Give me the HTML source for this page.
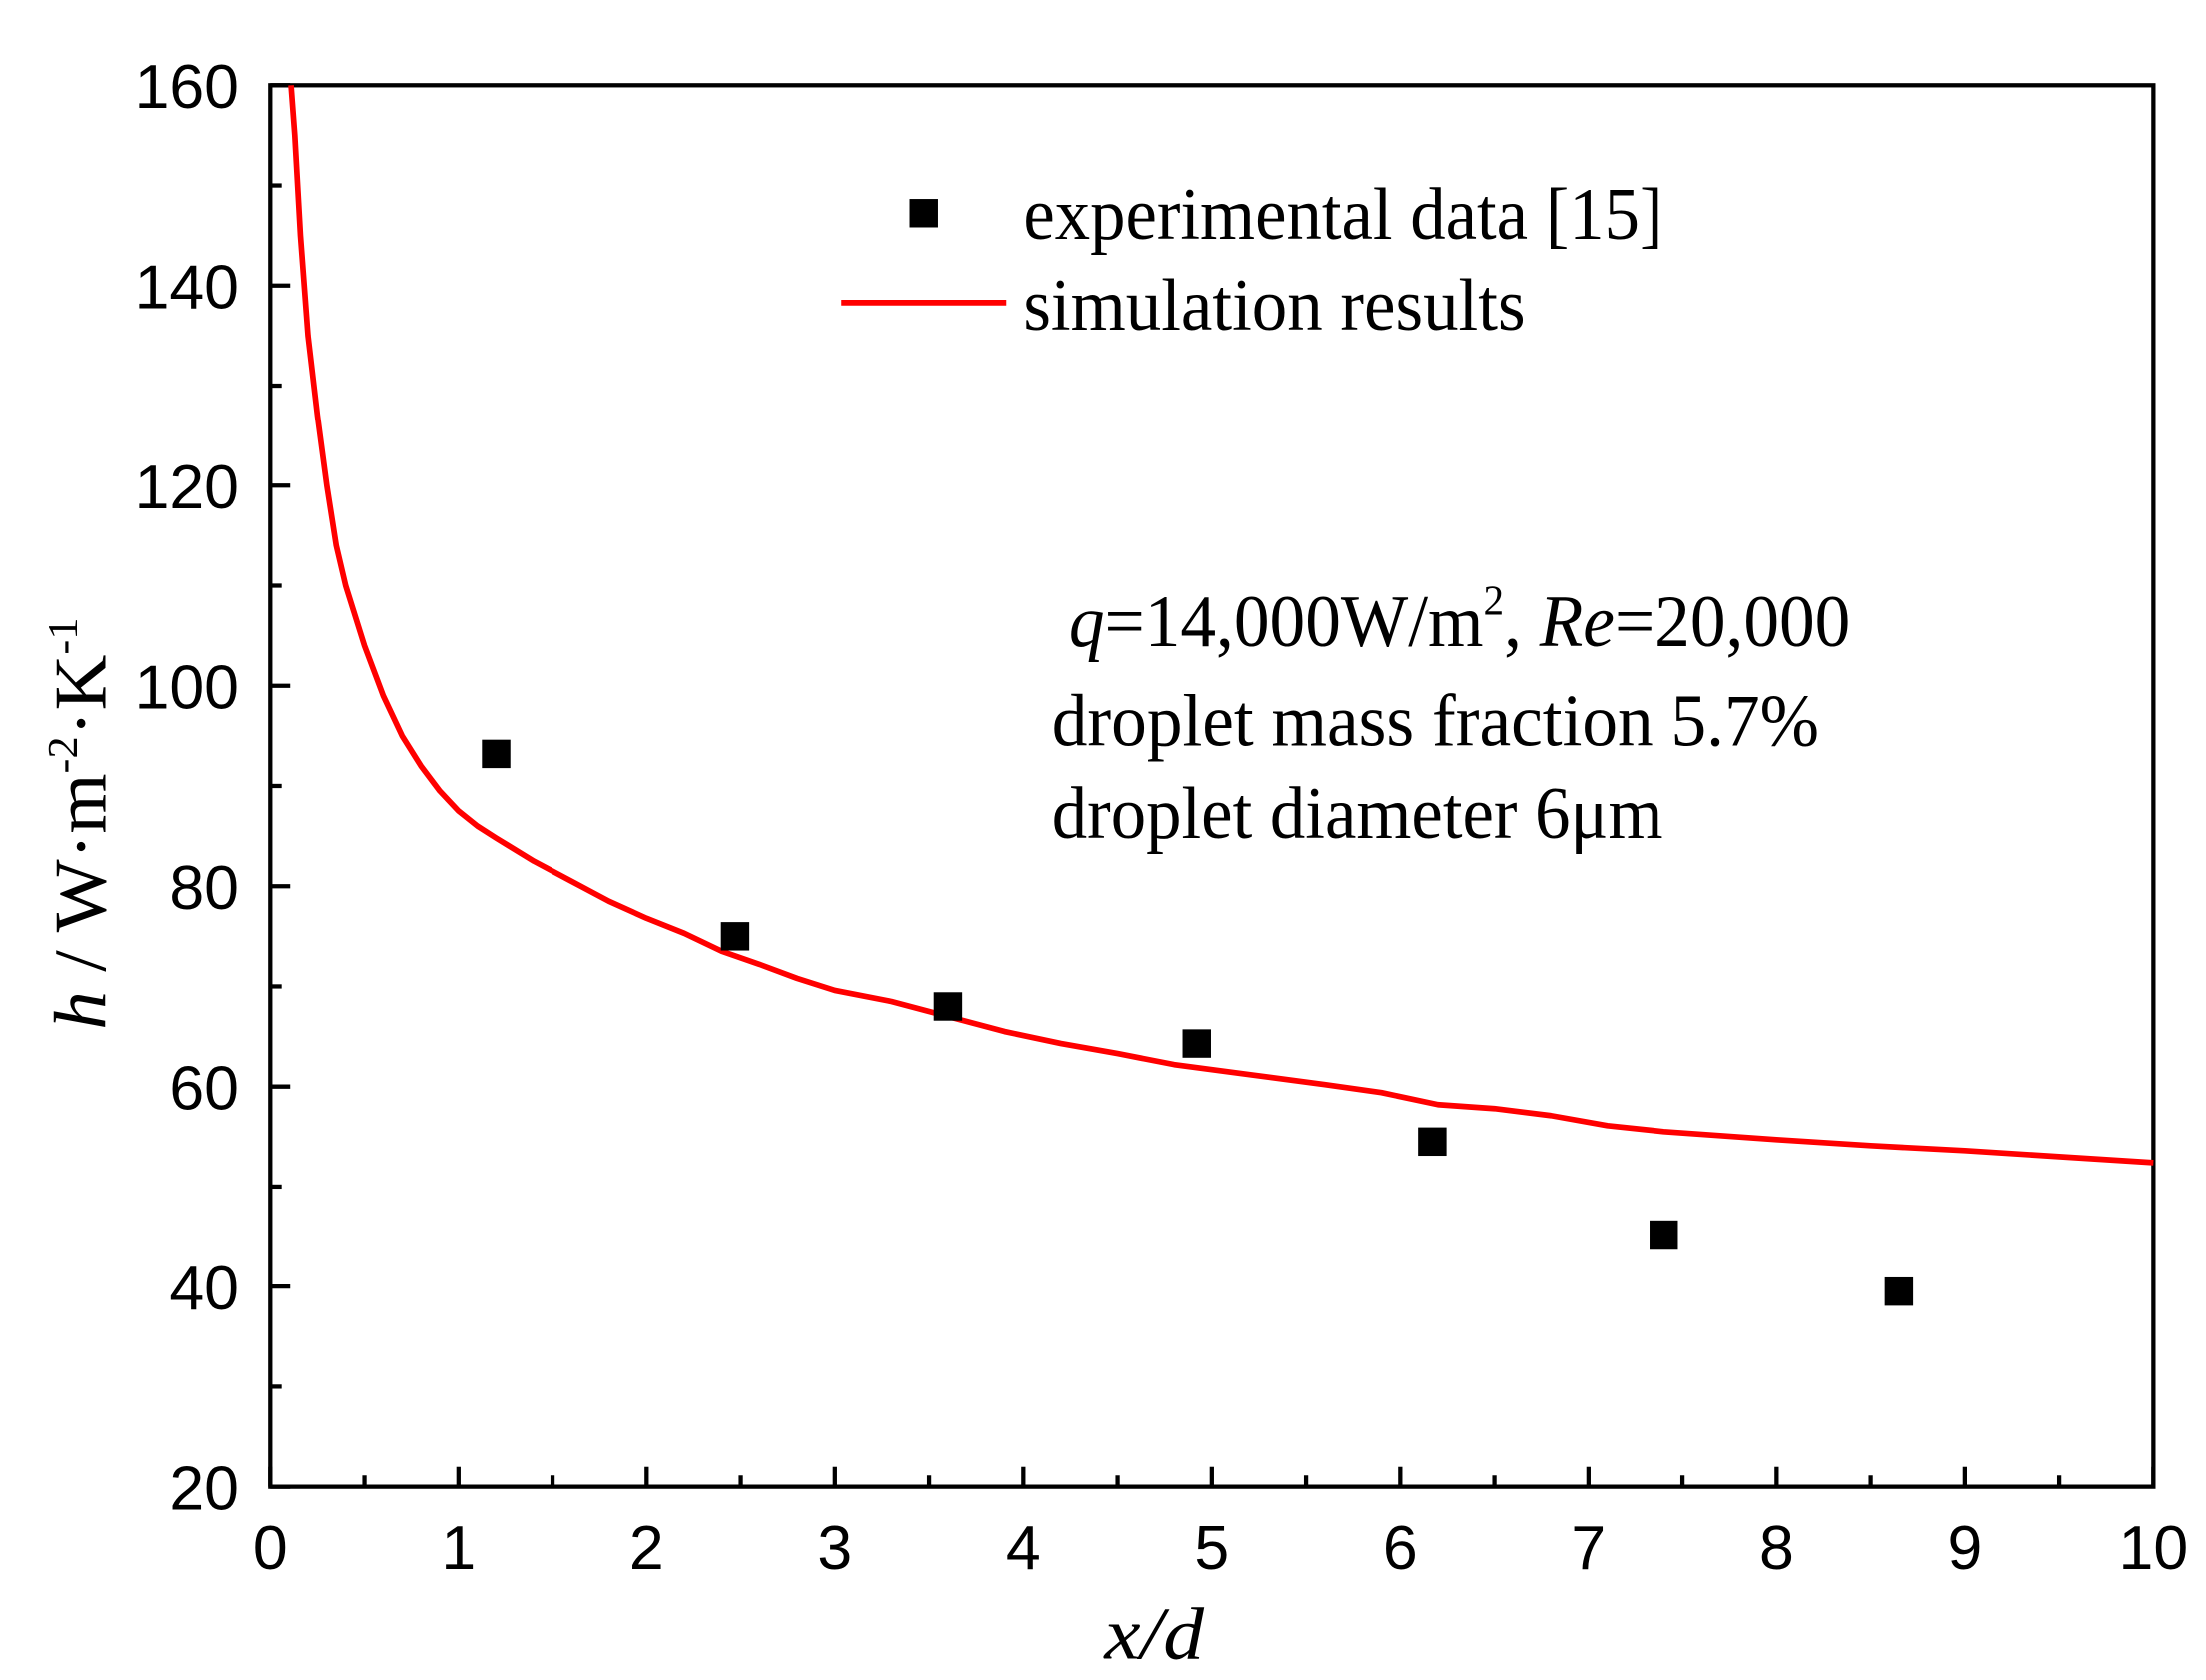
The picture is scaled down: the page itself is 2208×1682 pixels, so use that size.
<!DOCTYPE html>
<html><head><meta charset="utf-8"><style>
html,body{margin:0;padding:0;background:#fff}
svg{display:block}
.tk{font-family:"Liberation Sans",Arial,sans-serif;font-size:44px}
.tm{font-family:"Liberation Serif","Times New Roman",serif;font-size:52px}
</style></head><body>
<svg id="chart" width="2208" height="1682" viewBox="0 0 1552 1183" preserveAspectRatio="none" xmlns="http://www.w3.org/2000/svg">
<rect x="0" y="0" width="1552" height="1183" fill="#fff"/>
<g id="axes"></g>
<g id="series"></g>
<g>
<rect x="640" y="140" width="20" height="20" fill="#000"/>
<text class="tm" x="720" y="168" textLength="450" lengthAdjust="spacingAndGlyphs">experimental data [15]</text>
<line x1="592" y1="213" x2="708" y2="213" stroke="#ff0000" stroke-width="4"/>
<text class="tm" x="720" y="232" textLength="353" lengthAdjust="spacingAndGlyphs">simulation results</text>
</g>
<g>
<text class="tm" x="752" y="455" textLength="550" lengthAdjust="spacingAndGlyphs"><tspan font-style="italic">q</tspan>=14,000W/m<tspan dy="-22" font-size="30">2</tspan><tspan dy="22">, </tspan><tspan font-style="italic">Re</tspan>=20,000</text>
<text class="tm" x="740" y="525" textLength="540" lengthAdjust="spacingAndGlyphs">droplet mass fraction 5.7%</text>
<text class="tm" x="740" y="590" textLength="430" lengthAdjust="spacingAndGlyphs">droplet diameter 6μm</text>
</g>
<text class="tm" x="812" y="1168" text-anchor="middle" font-size="54" font-style="italic" textLength="70" lengthAdjust="spacingAndGlyphs">x/d</text>
<text class="tm" font-size="52" transform="translate(74,580) rotate(-90)" x="-145" y="0" textLength="290" lengthAdjust="spacingAndGlyphs"><tspan font-style="italic">h</tspan> / W·m<tspan dy="-20" font-size="30">-2</tspan><tspan dy="20">·K</tspan><tspan dy="-20" font-size="30">-1</tspan></text>
</svg>
<script>
const xTicks=[0,1,2,3,4,5,6,7,8,9,10];
const yTicks=[20,40,60,80,100,120,140,160];
const expX=[1.2,2.47,3.6,4.92,6.17,7.4,8.65];
const expY=[93.2,75,68,64.3,54.5,45.2,39.5];
const simX=[0.11,0.13,0.16,0.2,0.25,0.3,0.35,0.4,0.5,0.6,0.7,0.8,0.9,1.0,1.1,1.2,1.4,1.6,1.8,2.0,2.2,2.4,2.6,2.8,3.0,3.3,3.6,3.9,4.2,4.5,4.8,5.2,5.6,5.9,6.2,6.5,6.8,7.1,7.4,8.0,8.5,9.0,9.5,10.0];
const simY=[160,155,145,135,127,120,114,110,104,99,95,92,89.5,87.5,86,84.8,82.5,80.5,78.5,76.8,75.3,73.5,72.2,70.8,69.6,68.5,67,65.5,64.3,63.3,62.2,61.2,60.2,59.4,58.2,57.8,57.1,56.1,55.5,54.7,54.1,53.6,53.0,52.4];
const L=190,R=1515,T=60,B=1047;
const X=v=>L+(v-0)/(10-0)*(R-L);
const Y=v=>B-(v-20)/(160-20)*(B-T);
const NS="http://www.w3.org/2000/svg";
function mk(tag,attrs,parent){const e=document.createElementNS(NS,tag);for(const k in attrs)e.setAttribute(k,attrs[k]);parent.appendChild(e);return e;}
const ax=document.getElementById('axes');
const fr=mk('rect',{x:L,y:T,width:R-L,height:B-T,fill:'none',stroke:'#000','stroke-width':3},ax);


xTicks.forEach((v,i)=>{
 const t=mk('line',{x1:X(v),x2:X(v),y1:B,y2:B-14,stroke:'#000','stroke-width':3},ax);
 
 
 if(i<xTicks.length-1){const m=mk('line',{x1:X(v+0.5),x2:X(v+0.5),y1:B,y2:B-8,stroke:'#000','stroke-width':3},ax);
 
 }
 const l=mk('text',{x:X(v),y:1105,'text-anchor':'middle',class:'tk'},ax);l.textContent=v;
 
 
});
yTicks.forEach((v,i)=>{
 const t=mk('line',{x1:L,x2:L+14,y1:Y(v),y2:Y(v),stroke:'#000','stroke-width':3},ax);
 
 
 if(i<yTicks.length-1){const m=mk('line',{x1:L,x2:L+8,y1:Y(v+10),y2:Y(v+10),stroke:'#000','stroke-width':3},ax);
 
 }
 const l=mk('text',{x:168,y:Y(v)+16,'text-anchor':'end',class:'tk'},ax);l.textContent=v;
 
 
});
const s=document.getElementById('series');
const p=mk('polyline',{points:simX.map((x,i)=>X(x)+','+Y(simY[i])).join(' '),fill:'none',stroke:'#ff0000','stroke-width':4,'stroke-linejoin':'round'},s);


expX.forEach((x,i)=>{
 const r=mk('rect',{x:X(x)-10,y:Y(expY[i])-10,width:20,height:20,fill:'#000'},s);
 
 
});
</script>
</body></html>
